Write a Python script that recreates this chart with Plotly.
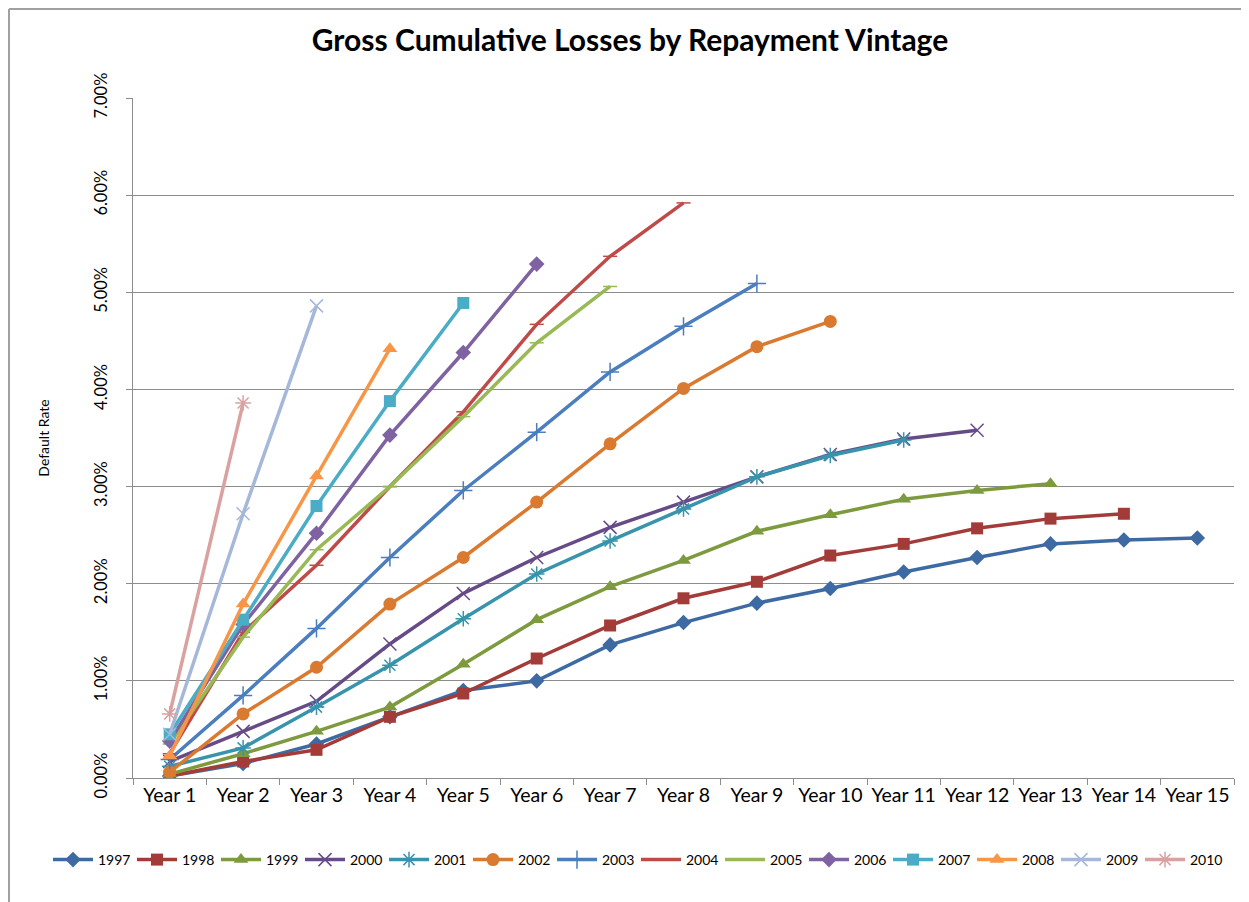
import plotly.graph_objects as go

years = [f"Year {i}" for i in range(1, 16)]

vintages = ["1997", "1998", "1999", "2000", "2001", "2002", "2003",
            "2004", "2005", "2006", "2007", "2008", "2009", "2010"]

v1997 = [0.02, 0.15, 0.35, 0.63, 0.90, 1.00, 1.37, 1.60, 1.80, 1.95, 2.12, 2.27, 2.41, 2.45, 2.47]
v1998 = [0.02, 0.17, 0.29, 0.63, 0.87, 1.23, 1.57, 1.85, 2.02, 2.29, 2.41, 2.57, 2.67, 2.72]
v1999 = [0.04, 0.25, 0.48, 0.73, 1.17, 1.63, 1.97, 2.24, 2.54, 2.71, 2.87, 2.96, 3.03]
v2000 = [0.17, 0.48, 0.79, 1.38, 1.90, 2.27, 2.58, 2.84, 3.10, 3.33, 3.49, 3.58]
v2001 = [0.12, 0.31, 0.73, 1.16, 1.64, 2.10, 2.44, 2.77, 3.10, 3.32, 3.48]
v2002 = [0.06, 0.66, 1.14, 1.79, 2.27, 2.84, 3.44, 4.01, 4.44, 4.70]
v2003 = [0.19, 0.85, 1.54, 2.27, 2.96, 3.56, 4.18, 4.65, 5.09]
v2004 = [0.25, 1.50, 2.19, 3.00, 3.77, 4.67, 5.37, 5.92]
v2005 = [0.35, 1.45, 2.35, 3.00, 3.72, 4.48, 5.06]
v2006 = [0.38, 1.58, 2.52, 3.53, 4.38, 5.29]
v2007 = [0.45, 1.63, 2.80, 3.88, 4.89]
v2008 = [0.23, 1.79, 3.11, 4.42]
v2009 = [0.45, 2.72, 4.86]
v2010 = [0.66, 3.86]

series = [v1997, v1998, v1999, v2000, v2001, v2002, v2003,
          v2004, v2005, v2006, v2007, v2008, v2009, v2010]

colors = ["#3D6AA3", "#A33C39", "#7D9B3E", "#664B87", "#3893AC", "#DA7A31", "#4A7EBE",
          "#BE4B48", "#98B954", "#7E62A1", "#4BACC6", "#F79646", "#A6B8D9", "#D9A1A0"]
symbols = ["diamond", "square", "triangle-up", "x-thin", "asterisk", "circle", "cross-thin",
           "line-ew", "line-ew", "diamond", "square", "triangle-up", "x-thin", "asterisk"]
msizes = [12, 12, 13, 13, 13, 13, 13, 10, 10, 12, 12, 13, 13, 13]

fig = go.Figure()
for name, vals, col, sym, ms in zip(vintages, series, colors, symbols, msizes):
    thin = sym in ("x-thin", "asterisk", "cross-thin", "line-ew")
    fig.add_trace(go.Scatter(
        x=years[:len(vals)], y=vals, name=name, mode="lines+markers",
        line=dict(color=col, width=3.5),
        marker=dict(symbol=sym, size=ms, color=col,
                    line=dict(color=col, width=1.5 if thin else 0)),
    ))

# page body has an 8px margin: figure origin sits at window (8, 8)
OFF = 8
W, H = 1249 - OFF, 902 - OFF
L, T = 133 - OFF, 98 - OFF
R, B = 15, 124
pw = W - L - R
ph = H - T - B

def px(p):  # window pixel -> paper x
    return (p - OFF - L) / pw

def py(p):  # window pixel -> paper y
    return (T + ph - (p - OFF)) / ph

grid = "#8C8C8C"
fig.update_layout(
    width=W, height=H,
    margin=dict(l=L, r=R, t=T, b=B, autoexpand=False),
    paper_bgcolor="white", plot_bgcolor="white",
    font=dict(family="Lato, 'Open Sans', sans-serif", color="#000000"),
    title=dict(text="<b>Gross Cumulative Losses by Repayment Vintage</b>",
               x=(630 - OFF) / W, xanchor="center", y=1 - (40 - OFF) / H, yanchor="middle",
               font=dict(size=30, family="Lato, sans-serif", color="#000000")),
    xaxis=dict(type="category", categoryorder="array", categoryarray=years,
               range=[-0.5, 14.5], showgrid=False, showline=True, linecolor=grid,
               linewidth=1, ticks="outside", tickson="boundaries", ticklen=6,
               tickcolor=grid, tickfont=dict(size=19.5), zeroline=False),
    yaxis=dict(range=[0, 7], dtick=1, tickformat=".2f", ticksuffix="%",
               tickangle=-90, showgrid=True, gridcolor=grid, gridwidth=1,
               showline=True, linecolor=grid, linewidth=1, ticks="outside",
               ticklen=6, tickcolor=grid, tickfont=dict(size=16.5), zeroline=False,
               ticklabelstandoff=12,
               title=dict(text="Default Rate", font=dict(size=14), standoff=38)),
    legend=dict(orientation="h", x=px(48), xanchor="left",
                y=py(860), yanchor="middle", font=dict(size=14), entrywidth=29,
                entrywidthmode="pixels", itemwidth=40, traceorder="normal",
                bgcolor="rgba(0,0,0,0)"),
    showlegend=True,
)

fig.add_shape(type="line", xref="paper", yref="paper",
              x0=px(9), x1=px(9), y0=py(9), y1=py(H + 20),
              line=dict(color="#A0A0A0", width=2))
fig.add_shape(type="line", xref="paper", yref="paper",
              x0=px(9), x1=px(1260), y0=py(9), y1=py(9),
              line=dict(color="#A0A0A0", width=2))

fig.write_html("out.html")
